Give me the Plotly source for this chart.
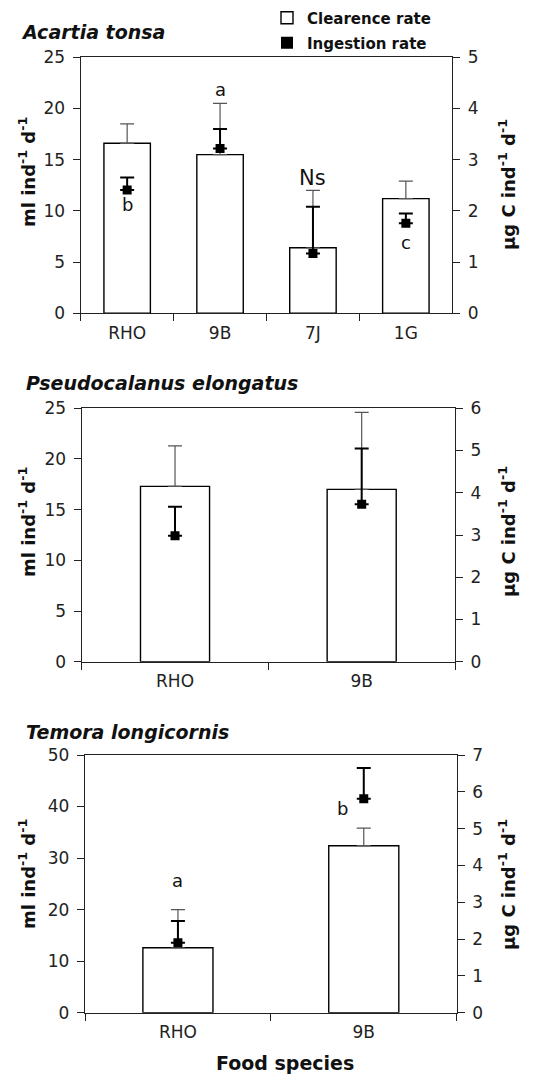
import plotly.graph_objects as go

W, H = 538, 1075

# ---------------- data ----------------
cats1 = ["RHO", "9B", "7J", "1G"]
clear1 = [16.6, 15.5, 6.4, 11.2]
clear1_sd = [1.9, 5.0, 5.6, 1.7]
ingest1 = [2.41, 3.22, 1.17, 1.76]
ingest1_sd = [0.24, 0.38, 0.91, 0.19]
letters1 = ["b", "a", "Ns", "c"]
letters1_y = [10.6, 21.9, 13.2, 6.9]

cats2 = ["RHO", "9B"]
clear2 = [17.3, 17.0]
clear2_sd = [4.0, 7.6]
ingest2 = [2.98, 3.73]
ingest2_sd = [0.69, 1.32]

cats3 = ["RHO", "9B"]
clear3 = [12.6, 32.4]
clear3_sd = [7.4, 3.4]
ingest3 = [1.90, 5.81]
ingest3_sd = [0.59, 0.84]
letters3 = ["a", "b"]
letters3_y = [25.7, 39.7]

titles = ["Acartia tonsa", "Pseudocalanus elongatus", "Temora longicornis"]
legend_names = ["Clearence rate", "Ingestion rate"]

FONT = "DejaVu Sans"
AX = "#222222"

# panel pixel boxes: (x0, x1, ytop, ybottom)
boxes = [(80.7, 452.3, 57.3, 313.3), (81.7, 455.0, 408.3, 661.7), (85.0, 456.7, 755.0, 1012.7)]
yranges = [(25, 5), (25, 6), (50, 7)]
ytickstep = [(5, 1), (5, 1), (10, 1)]
barwidths = [0.5, 0.37, 0.377]

fig = go.Figure()

panels = [
    (cats1, clear1, clear1_sd, ingest1, ingest1_sd),
    (cats2, clear2, clear2_sd, ingest2, ingest2_sd),
    (cats3, clear3, clear3_sd, ingest3, ingest3_sd),
]

for i, (cats, cl, cls, ig, igs) in enumerate(panels):
    xa = "x" if i == 0 else f"x{i+1}"
    yl = f"y{2*i+1}" if i > 0 else "y"
    yr = f"y{2*i+2}"
    fig.add_trace(go.Bar(
        x=cats, y=cl, xaxis=xa, yaxis=yl, width=barwidths[i],
        marker=dict(color="white", line=dict(color="black", width=1.4)),
        error_y=dict(type="data", symmetric=False, array=cls, arrayminus=[0]*len(cls),
                     color="#555555", thickness=1.2, width=7),
        name=legend_names[0], showlegend=(i == 0), legend="legend",
    ))
    fig.add_trace(go.Scatter(
        x=cats, y=ig, xaxis=xa, yaxis=yr, mode="markers",
        marker=dict(symbol="square", size=9, color="black"),
        error_y=dict(type="data", symmetric=False, array=igs, arrayminus=[0]*len(igs),
                     color="black", thickness=2, width=7),
        name=legend_names[1], showlegend=False,
    ))

# legend-only entry for ingestion (no error bar in the key)
fig.add_trace(go.Scatter(
    x=[None], y=[None], xaxis="x", yaxis="y2", mode="markers",
    marker=dict(symbol="square", size=12, color="black"),
    name=legend_names[1], showlegend=True, legend="legend2",
))

layout = dict(
    width=W, height=H, margin=dict(l=0, r=0, t=0, b=0, autoexpand=False),
    paper_bgcolor="white", plot_bgcolor="white",
    font=dict(family=FONT, size=17, color=AX),
    showlegend=True,
    annotations=[],
)

for i, (x0, x1, yt, yb) in enumerate(boxes):
    xk = "xaxis" if i == 0 else f"xaxis{i+1}"
    ylk = "yaxis" if i == 0 else f"yaxis{2*i+1}"
    yrk = f"yaxis{2*i+2}"
    ylname = "y" if i == 0 else f"y{2*i+1}"
    xname = "x" if i == 0 else f"x{i+1}"
    n = len(panels[i][0])
    layout[xk] = dict(
        domain=[x0 / W, x1 / W], anchor=ylname, type="category",
        range=[-0.5, n - 0.5], tickson="boundaries", ticks="outside", ticklen=7,
        tickwidth=1.2, tickcolor=AX, showline=True, linecolor=AX, linewidth=1.3,
        mirror=True, showgrid=False, zeroline=False, ticklabelstandoff=4,
        tickfont=dict(size=17, family=FONT, color=AX), fixedrange=True,
    )
    lmax, rmax = yranges[i]
    ls, rs = ytickstep[i]
    layout[ylk] = dict(
        domain=[1 - yb / H, 1 - yt / H], anchor=xname, range=[0, lmax],
        tickvals=list(range(0, lmax + 1, ls)), ticks="outside", ticklen=7,
        tickwidth=1.2, tickcolor=AX, showline=True, linecolor=AX, linewidth=1.3,
        showgrid=False, zeroline=False, ticklabelstandoff=4,
        tickfont=dict(size=17, family=FONT, color=AX),
    )
    layout[yrk] = dict(
        overlaying=ylname, side="right", anchor=xname, range=[0, rmax],
        tickvals=list(range(0, rmax + 1, rs)), ticks="outside", ticklen=7,
        tickwidth=1.2, tickcolor=AX, showline=True, linecolor=AX, linewidth=1.3,
        showgrid=False, zeroline=False, ticklabelstandoff=4,
        tickfont=dict(size=17, family=FONT, color=AX),
    )

ann = layout["annotations"]
# panel titles
title_pos = [(19, 32), (24, 383), (24, 732)]
for t, (tx, ty) in zip(titles, title_pos):
    ann.append(dict(text=f"<b><i>{t}</i></b>", xref="paper", yref="paper",
                    x=tx / W, y=1 - ty / H, xanchor="left", yanchor="middle",
                    showarrow=False, font=dict(size=19, family=FONT, color="#111")))
# y axis titles
ylt = [(27, 172), (27, 522), (27, 874)]
yrt = [(507, 185), (507, 532), (507, 885)]
for (lx, ly), (rx, ry) in zip(ylt, yrt):
    ann.append(dict(text="<b>ml ind<sup>-1</sup> d<sup>-1</sup></b>", xref="paper", yref="paper",
                    x=lx / W, y=1 - ly / H, xanchor="center", yanchor="middle", textangle=-90,
                    showarrow=False, font=dict(size=18, family=FONT, color="#111")))
    ann.append(dict(text="<b>µg C ind<sup>-1</sup> d<sup>-1</sup></b>", xref="paper", yref="paper",
                    x=rx / W, y=1 - ry / H, xanchor="center", yanchor="middle", textangle=-90,
                    showarrow=False, font=dict(size=18, family=FONT, color="#111")))
# x axis title
ann.append(dict(text="<b>Food species</b>", xref="paper", yref="paper",
                x=285 / W, y=1 - 1063 / H, xanchor="center", yanchor="middle",
                showarrow=False, font=dict(size=19, family=FONT, color="#111")))
# significance letters
for c, l, yv in zip(cats1, letters1, letters1_y):
    ann.append(dict(text=l, xref="x", yref="y", x=c, y=yv, showarrow=False,
                    xanchor="center", yanchor="middle",
                    font=dict(size=21 if l == "Ns" else 18, family=FONT, color="#111")))
shifts3 = [0, -21]
for c, l, yv, sh in zip(cats3, letters3, letters3_y, shifts3):
    ann.append(dict(text=l, xref="x3", yref="y5", x=c, y=yv, xshift=sh, showarrow=False,
                    xanchor="center", yanchor="middle",
                    font=dict(size=18, family=FONT, color="#111")))

layout["legend"] = dict(x=267 / W, y=1 - 18 / H, xanchor="left", yanchor="middle",
                        bgcolor="rgba(0,0,0,0)", itemwidth=30,
                        font=dict(size=15, family=FONT, color="#111", weight="bold"))
layout["legend2"] = dict(x=267 / W, y=1 - 43 / H, xanchor="left", yanchor="middle",
                         bgcolor="rgba(0,0,0,0)", itemwidth=30,
                         font=dict(size=15, family=FONT, color="#111", weight="bold"))

fig.update_layout(**layout)
fig.write_html("out.html", config={"displayModeBar": False},
               post_script="document.body.style.margin='0';document.body.style.overflow='hidden';")
